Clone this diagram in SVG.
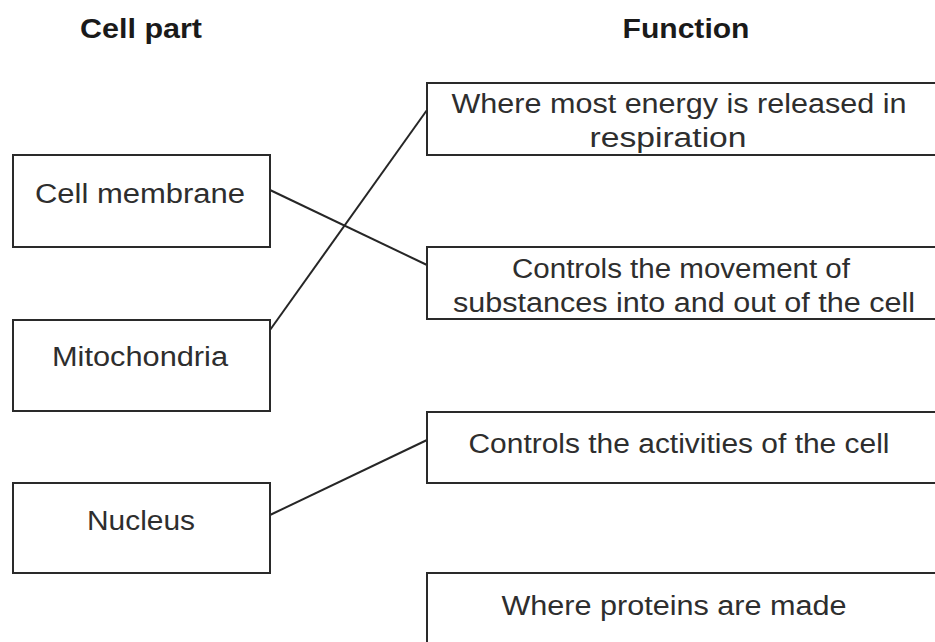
<svg xmlns="http://www.w3.org/2000/svg" width="935" height="642" viewBox="0 0 935 642">
<style>
.box{fill:#fff;stroke:#2a2a2a;stroke-width:2}
.t{font-family:"Liberation Sans",Arial,sans-serif;font-size:27px;fill:#2e2e2e;text-anchor:middle}
.h{font-family:"Liberation Sans",Arial,sans-serif;font-size:27px;font-weight:bold;fill:#1a1a1a;text-anchor:middle}
.c{stroke:#262626;stroke-width:2;fill:none}
</style>
<rect width="935" height="642" fill="#fff"/>
<g id="headers">
<text class="h" x="141" y="38" textLength="122" lengthAdjust="spacingAndGlyphs">Cell part</text>
<text class="h" x="686" y="38" textLength="127" lengthAdjust="spacingAndGlyphs">Function</text>
</g>
<g id="connectors">
<line class="c" x1="270" y1="190" x2="427" y2="265"/>
<line class="c" x1="270" y1="330" x2="427" y2="110"/>
<line class="c" x1="270" y1="515" x2="427" y2="440"/>
</g>
<g id="cell-membrane">
<rect class="box" x="13" y="155" width="257" height="92"/>
<text class="t" x="140" y="203" textLength="210" lengthAdjust="spacingAndGlyphs">Cell membrane</text>
</g>
<g id="mitochondria">
<rect class="box" x="13" y="320" width="257" height="91"/>
<text class="t" x="140" y="366" textLength="176" lengthAdjust="spacingAndGlyphs">Mitochondria</text>
</g>
<g id="nucleus">
<rect class="box" x="13" y="483" width="257" height="90"/>
<text class="t" x="141" y="530" textLength="108" lengthAdjust="spacingAndGlyphs">Nucleus</text>
</g>
<g id="energy">
<rect class="box" x="427" y="83" width="520" height="72"/>
<text class="t" x="679" y="113" textLength="455" lengthAdjust="spacingAndGlyphs">Where most energy is released in</text>
<text class="t" x="668" y="147" textLength="157" lengthAdjust="spacingAndGlyphs">respiration</text>
</g>
<g id="movement">
<rect class="box" x="427" y="247" width="520" height="72"/>
<text class="t" x="681" y="278" textLength="338" lengthAdjust="spacingAndGlyphs">Controls the movement of</text>
<text class="t" x="684" y="312" textLength="462" lengthAdjust="spacingAndGlyphs">substances into and out of the cell</text>
</g>
<g id="activities">
<rect class="box" x="427" y="412" width="520" height="71"/>
<text class="t" x="679" y="453" textLength="421" lengthAdjust="spacingAndGlyphs">Controls the activities of the cell</text>
</g>
<g id="proteins">
<rect class="box" x="427" y="573" width="520" height="80"/>
<text class="t" x="674" y="615" textLength="345" lengthAdjust="spacingAndGlyphs">Where proteins are made</text>
</g>
</svg>
